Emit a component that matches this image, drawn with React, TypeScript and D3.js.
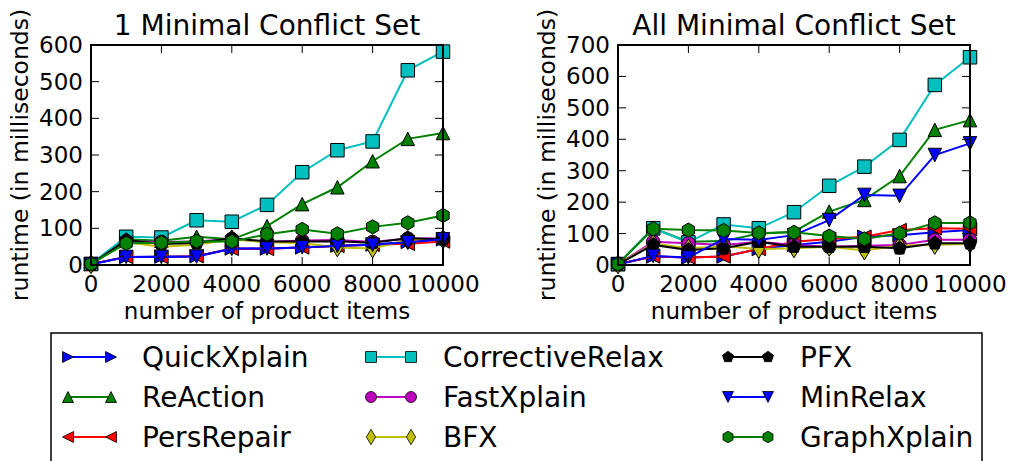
import * as d3 from 'd3';
import React from 'react';

// product item counts on the x axis
const items = [0, 1000, 2000, 3000, 4000, 5000, 6000, 7000, 8000, 9000, 10000];

// runtimes (ms), "1 Minimal Conflict Set"
const oneQuickXplain = [2, 22, 23, 24, 45, 45, 48, 53, 56, 63, 70];
const oneReAction = [3, 70, 66, 77, 70, 106, 166, 212, 283, 344, 360];
const onePersRepair = [3, 22, 22, 24, 44, 44, 48, 52, 55, 58, 64];
const oneCorrectiveRelax = [3, 77, 75, 122, 118, 164, 253, 313, 337, 531, 582];
const oneFastXplain = [2, 65, 63, 64, 71, 63, 67, 68, 63, 72, 72];
const oneBFX = [2, 62, 50, 55, 70, 62, 60, 48, 45, 68, 70];
const onePFX = [2, 68, 57, 60, 73, 64, 64, 65, 61, 73, 70];
const oneMinRelax = [2, 22, 22, 23, 44, 45, 48, 52, 55, 62, 70];
const oneGraphXplain = [3, 59, 61, 65, 64, 84, 97, 85, 104, 115, 135];

// runtimes (ms), "All Minimal Conflict Set"
const allQuickXplain = [2, 27, 24, 27, 51, 64, 74, 90, 95, 104, 111];
const allReAction = [3, 117, 74, 76, 100, 106, 170, 207, 283, 430, 461];
const allPersRepair = [3, 27, 24, 27, 51, 74, 83, 90, 111, 117, 115];
const allCorrectiveRelax = [3, 117, 72, 129, 117, 168, 252, 313, 398, 573, 661];
const allFastXplain = [2, 74, 69, 64, 74, 64, 58, 61, 64, 80, 80];
const allBFX = [2, 68, 53, 60, 51, 53, 58, 46, 62, 64, 68];
const allPFX = [2, 64, 48, 53, 74, 58, 58, 58, 53, 69, 69];
const allMinRelax = [2, 29, 24, 83, 80, 95, 143, 223, 220, 350, 387];
const allGraphXplain = [3, 115, 111, 110, 102, 104, 92, 83, 101, 134, 134];

const names = ['QuickXplain', 'ReAction', 'PersRepair', 'CorrectiveRelax', 'FastXplain', 'BFX', 'PFX', 'MinRelax', 'GraphXplain'];
const colors = ['#0000ff', '#008000', '#ff0000', '#00bfbf', '#bf00bf', '#bfbf00', '#000000', '#0000ff', '#008000'];
const markers = ['>', '^', '<', 's', 'o', 'd', 'p', 'v', 'h'];

const oneSeries = [oneQuickXplain, oneReAction, onePersRepair, oneCorrectiveRelax, oneFastXplain, oneBFX, onePFX, oneMinRelax, oneGraphXplain];
const allSeries = [allQuickXplain, allReAction, allPersRepair, allCorrectiveRelax, allFastXplain, allBFX, allPFX, allMinRelax, allGraphXplain];

const FONT = 'DejaVu Sans, sans-serif';

function polygon(n, r, rot) {
  const pts = d3.range(n).map(i => {
    const a = rot + (i * 2 * Math.PI) / n;
    return [r * Math.sin(a), -r * Math.cos(a)];
  });
  return 'M' + pts.map(p => p.join(',')).join('L') + 'Z';
}

function markerPath(m, s) {
  const h = s / 2;
  switch (m) {
    case '>': return `M${h},0L${-h},${-h}L${-h},${h}Z`;
    case '<': return `M${-h},0L${h},${-h}L${h},${h}Z`;
    case '^': return `M0,${-h}L${-h},${h}L${h},${h}Z`;
    case 'v': return `M0,${h}L${-h},${-h}L${h},${-h}Z`;
    case 's': return `M${-h},${-h}H${h}V${h}H${-h}Z`;
    case 'o': return d3.symbol(d3.symbolCircle, Math.PI * h * h)();
    case 'd': {
      const w = s * 0.42, t = s * 0.7;
      return `M0,${-t}L${w},0L0,${t}L${-w},0Z`;
    }
    case 'p': return polygon(5, h * 1.05, 0);
    case 'h': return polygon(6, h * 1.05, 0);
  }
  return '';
}

function Panel({ left, right, top, bottom, yMax, title, series, yLabelX }) {
  const x = d3.scaleLinear().domain([0, 10000]).range([left, right]);
  const y = d3.scaleLinear().domain([0, yMax]).range([bottom, top]);
  const line = d3.line().x((d, i) => x(items[i])).y(d => y(d));
  const xt = d3.range(0, 10001, 2000);
  const yt = d3.range(0, yMax + 1, 100);
  const tl = 8;
  return (
    <g>
      <text x={(left + right) / 2} y={34.5} textAnchor="middle" fontSize={28} fontFamily={FONT}>{title}</text>
      {series.map((s, k) => (
        <g key={k}>
          <path d={line(s)} fill="none" stroke={colors[k]} strokeWidth={2} />
          {s.map((v, i) => (
            <path key={i} d={markerPath(markers[k], 13.5)} transform={`translate(${x(items[i])},${y(v)})`}
              fill={colors[k]} stroke="#000" strokeWidth={1} />
          ))}
        </g>
      ))}
      {xt.map(t => (
        <g key={'x' + t}>
          <line x1={x(t)} x2={x(t)} y1={bottom} y2={bottom - tl} stroke="#000" strokeWidth={1} />
          <line x1={x(t)} x2={x(t)} y1={top} y2={top + tl} stroke="#000" strokeWidth={1} />
          <text x={x(t)} y={292} textAnchor="middle" fontSize={23} fontFamily={FONT}>{t}</text>
        </g>
      ))}
      {yt.map(t => (
        <g key={'y' + t}>
          <line x1={left} x2={left + tl} y1={y(t)} y2={y(t)} stroke="#000" strokeWidth={1} />
          <line x1={right} x2={right - tl} y1={y(t)} y2={y(t)} stroke="#000" strokeWidth={1} />
          <text x={left - 8} y={y(t) + 8} textAnchor="end" fontSize={23} fontFamily={FONT}>{t}</text>
        </g>
      ))}
      <rect x={left} y={top} width={right - left} height={bottom - top} fill="none" stroke="#000" strokeWidth={2} />
      <text x={(left + right) / 2} y={319} textAnchor="middle" fontSize={23} fontFamily={FONT}>number of product items</text>
      <text transform={`translate(${yLabelX},${(top + bottom) / 2}) rotate(-90)`} textAnchor="middle" fontSize={23.5} fontFamily={FONT}>runtime (in milliseconds)</text>
    </g>
  );
}

function Legend() {
  const cols = [[68, 111, 142], [371, 411, 443], [728, 768, 800]];
  const rows = [357, 397, 437];
  return (
    <g>
      <rect x={51} y={333} width={931} height={140} fill="#fff" stroke="#000" strokeWidth={1.5} />
      {names.map((n, k) => {
        const c = cols[Math.floor(k / 3)];
        const r = rows[k % 3];
        return (
          <g key={n}>
            <line x1={c[0]} x2={c[1]} y1={r} y2={r} stroke={colors[k]} strokeWidth={2} />
            {[c[0], c[1]].map((cx, j) => (
              <path key={j} d={markerPath(markers[k], 11)} transform={`translate(${cx},${r})`}
                fill={colors[k]} stroke="#000" strokeWidth={0.8} />
            ))}
            <text x={c[2]} y={r + 10} fontSize={28} fontFamily={FONT}>{n}</text>
          </g>
        );
      })}
    </g>
  );
}

export default function App() {
  return (
    <svg width={1011} height={461} style={{ position: 'absolute', left: 0, top: 0, background: '#fff' }}>
      <rect width={1011} height={461} fill="#fff" />
      <Panel left={91} right={443} top={45} bottom={265} yMax={600} title="1 Minimal Conflict Set" series={oneSeries} yLabelX={28} />
      <Panel left={618} right={970} top={45} bottom={265} yMax={700} title="All Minimal Conflict Set" series={allSeries} yLabelX={555} />
      <Legend />
    </svg>
  );
}
